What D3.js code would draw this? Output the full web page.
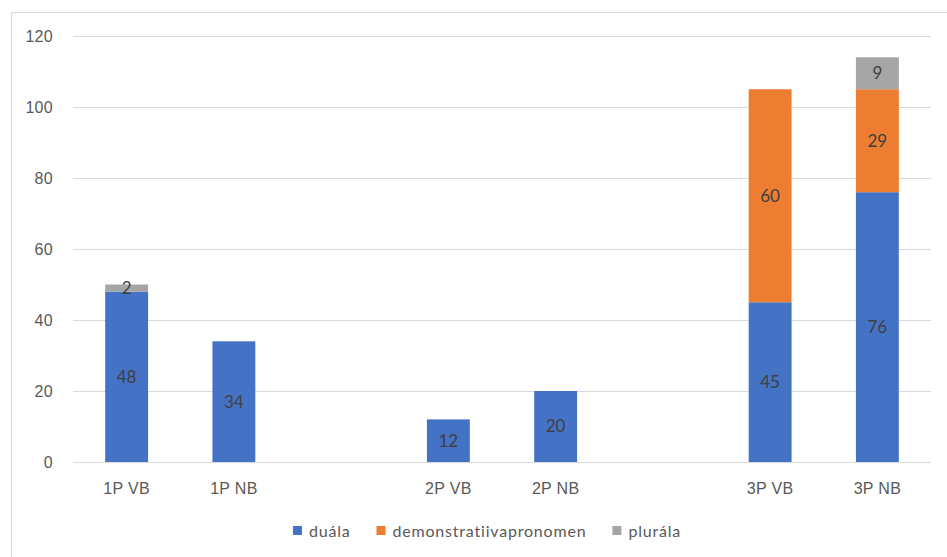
<!DOCTYPE html>
<html>
<head>
<meta charset="utf-8">
<script src="https://cdn.jsdelivr.net/npm/d3@7"></script>
<style>
  body { margin: 0; background: #fff; }
  svg { font-family: Lato, "Open Sans", sans-serif; }
  .tick text { fill: #595959; font-size: 16px; letter-spacing: 0.3px; }
  .gridline line { stroke: #d9d9d9; stroke-width: 1; }
  .gridline path { display: none; }
</style>
</head>
<body>
<div id="card"></div>
<script>
  // chart data
  const categories = ["1P VB", "1P NB", "gap1", "2P VB", "2P NB", "gap2", "3P VB", "3P NB"];
  const catLabels = ["1P VB", "1P NB", "", "2P VB", "2P NB", "", "3P VB", "3P NB"];
  const seriesNames = ["duála", "demonstratiivapronomen", "plurála"];
  const duala = [48, 34, 0, 12, 20, 0, 45, 76];
  const demonstr = [0, 0, 0, 0, 0, 0, 60, 29];
  const plurala = [2, 0, 0, 0, 0, 0, 0, 9];
  const yTicks = [0, 20, 40, 60, 80, 100, 120];
  const colors = ["#4472C4", "#ED7D31", "#A5A5A5"];

  const w = 947;
  const h = 557;
  const margin = { top: 36, bottom: 95, left: 73, right: 16 };
  const width = w - margin.left - margin.right;
  const height = h - margin.top - margin.bottom;

  const svg = d3.select("#card")
    .append("svg")
      .attr("width", w)
      .attr("height", h);

  // chart frame (only top and left visible in the crop)
  svg.append("path")
    .attr("d", "M11.5,557 L11.5,12.5 L947,12.5")
    .attr("fill", "none")
    .attr("stroke", "#d9d9d9")
    .attr("stroke-width", 1);

  const chart = svg.append("g")
    .attr("transform", "translate(" + margin.left + "," + margin.top + ")");

  const x = d3.scaleBand()
    .domain(categories)
    .range([0, width])
    .paddingInner(0.6)
    .paddingOuter(0.3);

  const y = d3.scaleLinear()
    .domain([0, 120])
    .range([height, 0]);

  // gridlines + y labels
  const yAxis = d3.axisLeft(y)
    .tickValues(yTicks)
    .tickSize(-width)
    .tickPadding(20);

  const gy = chart.append("g")
    .classed("gridline", true)
    .call(yAxis);
  gy.selectAll(".tick line").attr("stroke", "#d9d9d9");
  gy.selectAll(".tick text").attr("dy", "0.35em");

  // x labels
  const xAxis = d3.axisBottom(x)
    .tickSize(0)
    .tickPadding(21)
    .tickFormat((d, i) => catLabels[i]);

  const gx = chart.append("g")
    .attr("transform", "translate(0," + height + ")")
    .call(xAxis);
  gx.select(".domain").remove();

  // stacked data
  const table = categories.map((c, i) => ({
    cat: c,
    "duála": duala[i],
    "demonstratiivapronomen": demonstr[i],
    "plurála": plurala[i]
  }));
  const stack = d3.stack().keys(seriesNames)(table);

  const layers = chart.selectAll(".layer")
    .data(stack)
    .enter()
    .append("g")
      .attr("fill", (d, i) => colors[i]);

  layers.selectAll("rect")
    .data(d => d.filter(s => s[1] - s[0] > 0))
    .enter()
    .append("rect")
      .attr("x", d => x(d.data.cat))
      .attr("y", d => y(d[1]))
      .attr("width", x.bandwidth())
      .attr("height", d => y(d[0]) - y(d[1]));

  layers.selectAll("text")
    .data(d => d.filter(s => s[1] - s[0] > 0))
    .enter()
    .append("text")
      .attr("x", d => x(d.data.cat) + x.bandwidth() / 2)
      .attr("y", d => (y(d[0]) + y(d[1])) / 2)
      .attr("dy", "0.35em")
      .attr("text-anchor", "middle")
      .attr("fill", "#404040")
      .style("font-size", "17px")
      .text(d => d[1] - d[0]);

  // legend
  const legend = svg.append("g")
    .attr("transform", "translate(0,531)");
  let lx = 0;
  seriesNames.forEach((name, i) => {
    const item = legend.append("g").attr("transform", "translate(" + lx + ",0)");
    item.append("rect")
      .attr("x", 0).attr("y", -5)
      .attr("width", 9).attr("height", 9)
      .attr("fill", colors[i]);
    const t = item.append("text")
      .attr("x", 16)
      .attr("dy", "0.35em")
      .attr("fill", "#595959")
      .style("font-size", "16px")
      .style("letter-spacing", "0.8px")
      .text(name);
    lx += 16 + t.node().getComputedTextLength() + 26;
  });
  const legendW = lx - 26;
  legend.attr("transform", "translate(" + (487 - legendW / 2) + ",531)");
</script>
</body>
</html>
